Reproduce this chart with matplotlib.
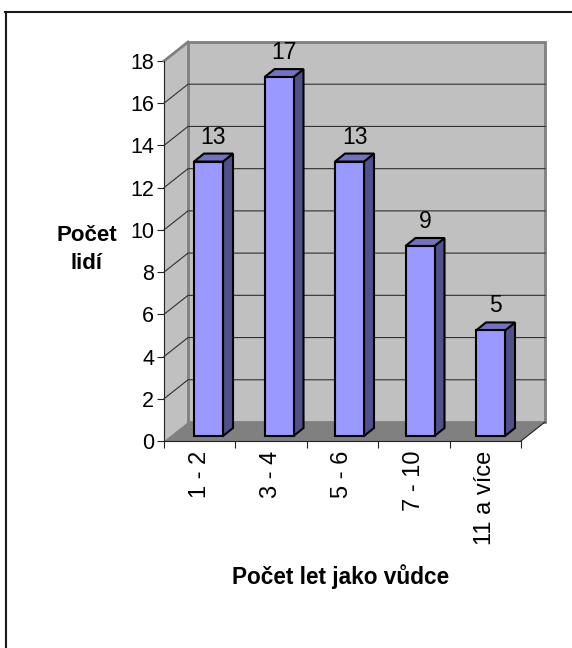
import matplotlib
matplotlib.use("Agg")
import matplotlib.pyplot as plt
from matplotlib.lines import Line2D
from matplotlib.patches import Polygon, Rectangle

categories = ["1 - 2", "3 - 4", "5 - 6", "7 - 10", "11 a více"]
values = [13, 17, 13, 9, 5]
y_ticks = [0, 2, 4, 6, 8, 10, 12, 14, 16, 18]

W, H = 572, 648
plt.rcParams["font.family"] = ["Liberation Sans", "DejaVu Sans"]

fig = plt.figure(figsize=(W / 100, H / 100), dpi=100)
fig.patch.set_facecolor("white")

# frame: only the top and left edges show, the rest is cropped away
fig.add_artist(Line2D([6 / W, 6 / W], [0, 1 - 12 / H], color="#1a1a1a", lw=1.5, transform=fig.transFigure))
fig.add_artist(Line2D([5 / W, 1], [1 - 12 / H, 1 - 12 / H], color="#1a1a1a", lw=1.5, transform=fig.transFigure))

# axes = front edge of the floor, 164..521 px, y 441..61 px
ax = fig.add_axes([164 / W, 1 - 441 / H, 357 / W, 380 / H])
ax.set_xlim(0, len(categories))
ax.set_ylim(0, 18)
ax.patch.set_visible(False)
for s in ["top", "right"]:
    ax.spines[s].set_visible(False)
for s in ["left", "bottom"]:
    ax.spines[s].set_color("#222222")
    ax.spines[s].set_linewidth(0.8)

# px to data units
px_x = 5 / 357
px_y = 18 / 380
dx = 24 * px_x
dy = 19 * px_y
n = len(categories)
ymax = y_ticks[-1]

# side wall, back wall, floor
ax.add_patch(Polygon([(0, 0), (dx, dy), (dx, ymax + dy), (0, ymax)], fc="#c0c0c0", ec="none", zorder=1, clip_on=False))
ax.add_patch(Rectangle((dx, dy), n, ymax, fc="#c0c0c0", ec="#808080", lw=2, zorder=1, clip_on=False))
ax.add_patch(Polygon([(0, 0), (dx, dy), (n + dx, dy), (n, 0)], fc="#808080", ec="none", zorder=2, clip_on=False))
ax.plot([0, dx], [ymax, ymax + dy], color="#808080", lw=2, zorder=2, clip_on=False)
ax.plot([n, n + dx], [0, dy], color="#222222", lw=0.8, zorder=2, clip_on=False)

# gridlines
for t in y_ticks[1:-1]:
    ax.plot([0, dx, n + dx], [t, t + dy, t + dy], color="#303030", lw=0.8, zorder=3, clip_on=False)

# bars
bar_w = 29 * px_x
bar_step = 70.5 * px_x
depth_x = 10 * px_x
depth_y = 8 * px_y
base = 5 * px_y
left0 = 30 * px_x
for i, v in enumerate(values):
    x0 = left0 + i * bar_step
    x1 = x0 + bar_w
    top = base + v
    ax.add_patch(Polygon([(x1, base), (x1 + depth_x, base + depth_y), (x1 + depth_x, top + depth_y), (x1, top)],
                         fc="#50508a", ec="black", lw=1.5, zorder=4, joinstyle="miter", clip_on=False))
    ax.add_patch(Polygon([(x0, top), (x0 + depth_x, top + depth_y), (x1 + depth_x, top + depth_y), (x1, top)],
                         fc="#7272c0", ec="black", lw=1.5, zorder=4, joinstyle="miter", clip_on=False))
    ax.add_patch(Rectangle((x0, base), bar_w, v, fc="#9999ff", ec="black", lw=1.5, zorder=5, clip_on=False))
    ax.text(x0 + bar_w / 2 + depth_x / 2, top + depth_y + 10 * px_y, str(v), ha="center", va="baseline",
            fontsize=16.5, color="black", zorder=6)

ax.set_yticks(y_ticks)
ax.set_xticks(range(n + 1))
ax.set_xticklabels([])
ax.tick_params(axis="y", length=5, width=0.8, color="#222222", labelsize=15.5, pad=2)
ax.tick_params(axis="x", length=5, width=0.8, color="#222222")

for i, c in enumerate(categories):
    ax.annotate(c, (i + 0.5, 0), xytext=(0, -7), xycoords="data", textcoords="offset points",
                rotation=90, ha="center", va="top", fontsize=17)

fig.text(87 / W, 1 - 249.5 / H, "Počet\nlidí", ha="center", va="center", fontsize=16, fontweight="bold",
         linespacing=1.45)
fig.text(341 / W, 1 - 577 / H, "Počet let jako vůdce", ha="center", va="center", fontsize=16.3, fontweight="bold")

fig.savefig("out.png", dpi=100)
